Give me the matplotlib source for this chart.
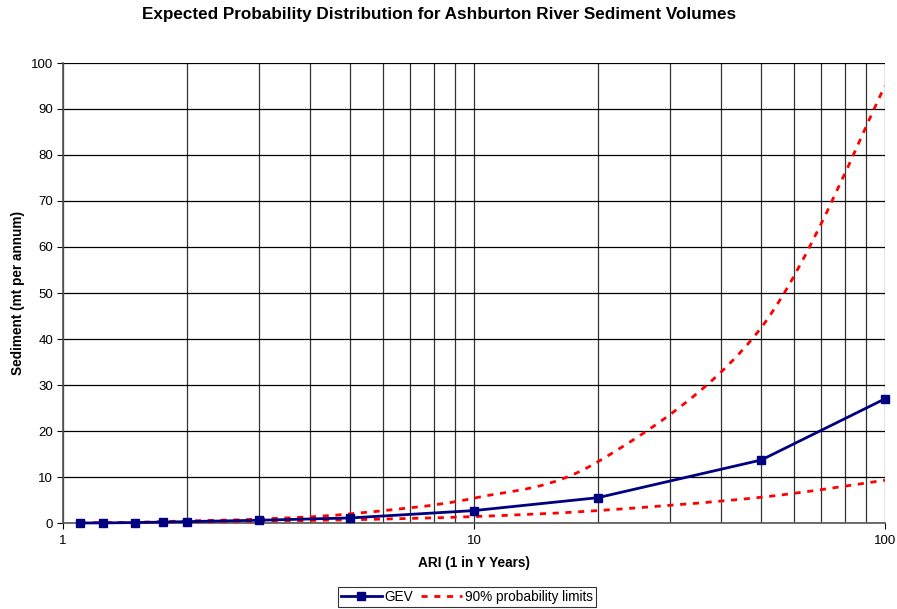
import numpy as np
import matplotlib
matplotlib.use('Agg')
import matplotlib.pyplot as plt
from matplotlib.path import Path
from matplotlib.patches import PathPatch
from matplotlib.lines import Line2D

plt.rcParams['font.family'] = ['Liberation Sans', 'DejaVu Sans']

# ARI (1 in Y years) and sediment volumes (mt per annum)
ari = [1.1, 1.25, 1.5, 1.75, 2, 3, 5, 10, 20, 50, 100]
gev = [0.0, 0.02, 0.1, 0.2, 0.3, 0.6, 1.1, 2.7, 5.5, 13.7, 27.0]
upper = [0.0, 0.05, 0.15, 0.3, 0.45, 0.85, 2.0, 5.4, 13.3, 42.5, 95.0]
lower = [0.0, 0.0, 0.05, 0.1, 0.2, 0.4, 0.7, 1.4, 2.7, 5.6, 9.3]

title = 'Expected Probability Distribution for Ashburton River Sediment Volumes'
xlabel = 'ARI (1 in Y Years)'
ylabel = 'Sediment (mt per annum)'

DASH = (0, (2.2, 2.4))


def smooth_path(x, y):
    # spreadsheet-style smoothed line: cubic bezier segments through the points,
    # control points worked out in log10(x) space
    lx = np.log10(x)
    y = np.asarray(y, float)
    n = len(lx)
    verts = [(x[0], y[0])]
    codes = [Path.MOVETO]
    for i in range(n - 1):
        p0 = (lx[max(i - 1, 0)], y[max(i - 1, 0)])
        p1 = (lx[i], y[i])
        p2 = (lx[i + 1], y[i + 1])
        p3 = (lx[min(i + 2, n - 1)], y[min(i + 2, n - 1)])
        c1 = (p1[0] + (p2[0] - p0[0]) / 6, p1[1] + (p2[1] - p0[1]) / 6)
        c2 = (p2[0] - (p3[0] - p1[0]) / 6, p2[1] - (p3[1] - p1[1]) / 6)
        verts += [(10 ** c1[0], c1[1]), (10 ** c2[0], c2[1]), (10 ** p2[0], p2[1])]
        codes += [Path.CURVE4] * 3
    return Path(verts, codes)


fig = plt.figure(figsize=(8.97, 6.09), dpi=100)
ax = fig.add_axes([63 / 897, 86 / 609, 822 / 897, 460 / 609])
ax.set_xscale('log')
ax.set_xlim(1, 100)
ax.set_ylim(0, 100)
ax.set_yticks(range(0, 101, 10))
ax.set_xticks([1, 10, 100])
ax.set_xticklabels(['1', '10', '100'])
ax.minorticks_off()
ax.set_xticks([k * d for d in (1, 10) for k in range(2, 10)], minor=True)
ax.tick_params(which='minor', length=0)
ax.tick_params(which='major', direction='out', length=4, width=0.8, labelsize=9.5, pad=3)
ax.tick_params(axis='x', which='major', pad=5)
ax.grid(True, which='both', axis='x', color='#333333', lw=0.9)
ax.grid(True, which='major', axis='y', color='black', lw=0.9)
ax.set_axisbelow(True)
for s in ('top', 'right'):
    ax.spines[s].set_visible(False)
for s in ('left', 'bottom'):
    ax.spines[s].set_color('#555555')
    ax.spines[s].set_linewidth(1.2)

for ys in (upper, lower):
    ax.add_patch(PathPatch(smooth_path(ari, ys), facecolor='none', edgecolor='red',
                           lw=2.0, linestyle=DASH, zorder=3))
ax.plot(ari, gev, color='#000080', lw=2.0, marker='s', ms=6, zorder=4, clip_on=False)

fig.text(439 / 897, 1 - 15 / 609, title, ha='center', va='center', fontsize=12.3, fontweight='bold')
ax.set_xlabel(xlabel, fontsize=9.8, fontweight='bold', labelpad=6)
ax.set_ylabel(ylabel, fontsize=9.8, fontweight='bold', labelpad=4)

handles = [Line2D([], [], color='#000080', lw=2.0, marker='s', ms=6),
           Line2D([], [], color='red', lw=2.0, linestyle=DASH)]
leg = fig.legend(handles, ['GEV', '90% probability limits'], loc='center',
                 bbox_to_anchor=(467 / 897, 1 - 597 / 609), ncol=2, fontsize=9.8,
                 frameon=True, fancybox=False, handlelength=3.0, handletextpad=0.2,
                 columnspacing=0.6, borderpad=0.25)
leg.get_frame().set_edgecolor('black')
leg.get_frame().set_linewidth(0.8)

fig.savefig('out.png', dpi=100)
